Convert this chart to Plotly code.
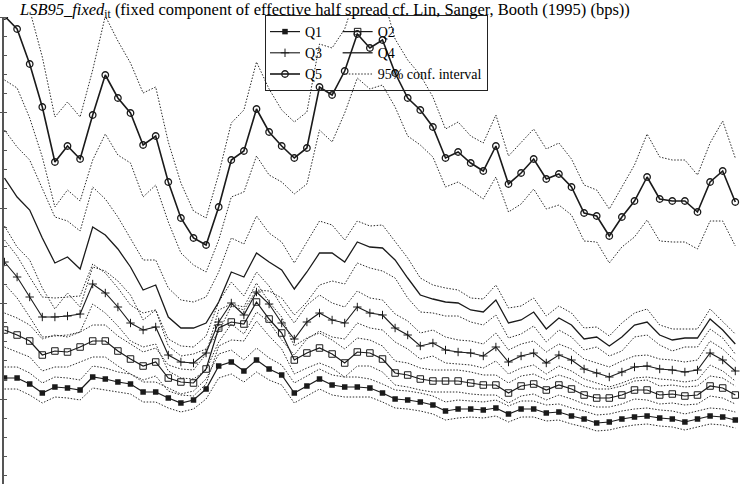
import plotly.graph_objects as go

# period index (59 observations)
periods = list(range(59))

q1 = [12.2,12.2,11.6,10.7,11.3,11.2,11.0,12.3,12.1,11.8,11.6,10.8,10.8,10.2,9.7,10.0,11.1,13.4,13.8,12.9,
      14.0,13.1,12.5,10.7,11.4,12.1,11.5,11.3,11.3,11.2,10.7,10.1,10.0,9.8,9.5,8.9,9.1,9.1,9.0,9.2,
      8.6,9.1,9.1,8.7,8.8,8.4,8.1,7.7,7.8,8.1,8.3,8.4,8.2,8.1,7.8,8.1,8.4,8.3,8.0]
q2 = [17.0,16.5,15.9,14.5,14.9,14.8,15.3,15.9,15.9,14.9,14.1,13.4,13.8,12.2,11.8,11.7,13.1,17.2,17.8,17.6,
      19.8,18.1,16.7,14.0,14.7,15.2,14.6,13.7,14.8,14.7,14.1,12.7,12.5,12.1,11.9,11.9,11.9,11.7,11.5,11.5,
      10.7,11.4,11.6,11.0,11.5,11.1,10.5,10.2,10.2,10.5,11.0,11.0,10.5,10.6,10.4,10.5,11.4,11.2,10.5]
q3 = [23.8,22.3,20.3,18.3,18.3,18.4,18.6,21.6,20.7,19.3,17.7,17.0,17.3,14.5,13.8,13.7,14.7,17.8,19.7,18.5,
      20.8,19.6,17.7,16.1,17.8,18.7,18.0,17.7,19.3,18.7,18.5,17.2,16.5,15.4,15.7,15.0,14.8,14.7,14.4,15.3,
      13.8,14.4,14.7,13.7,14.5,14.0,13.1,12.7,12.3,12.8,13.3,13.4,13.1,13.0,12.8,13.0,14.7,14.0,12.9]
q4 = [32.2,30.3,29.0,26.2,23.7,24.3,23.1,27.3,26.5,25.1,23.3,21.0,21.5,18.3,17.2,17.2,17.7,19.8,22.8,22.3,
      24.7,23.8,23.0,21.1,22.8,24.7,24.7,23.8,25.8,25.3,25.2,24.0,22.2,20.5,20.1,19.8,19.7,19.0,18.8,20.0,
      17.7,18.0,18.8,17.1,18.2,17.5,16.1,16.3,15.4,16.3,17.5,17.8,16.5,16.0,16.2,16.2,18.1,17.0,15.6]
q5 = [48.4,47.1,43.6,39.3,33.8,35.4,34.1,38.5,42.5,40.2,38.7,35.5,36.4,31.8,28.2,26.2,25.5,29.3,34.0,34.9,
      39.1,36.8,35.4,34.2,35.2,41.3,40.5,42.9,46.6,45.2,46.0,42.7,40.2,39.0,37.3,34.2,34.8,33.7,32.9,35.4,
      31.6,32.7,34.1,32.1,32.6,31.3,28.7,28.4,26.4,28.3,29.9,32.3,30.1,29.9,29.9,28.8,31.8,32.9,29.8]

# half-width of the 95% confidence interval
q1_ci = [1.1,1.1,1.1,1.0,1.0,1.0,1.0,1.1,1.1,1.0,1.0,1.0,1.0,1.0,0.9,0.9,1.0,1.2,1.2,1.1,
         1.2,1.1,1.0,1.0,1.0,1.0,1.0,1.0,1.0,0.9,0.9,0.9,0.9,0.9,0.9,0.9,0.9,0.8,0.8,0.8,
         0.8,0.8,0.8,0.8,0.8,0.8,0.8,0.8,0.8,0.8,0.8,0.8,0.8,0.8,0.8,0.8,0.8,0.8,0.8]
q2_ci = [1.7,1.7,1.6,1.6,1.6,1.5,1.5,1.6,1.6,1.5,1.5,1.4,1.4,1.3,1.3,1.3,1.5,1.8,1.8,1.7,
         1.9,1.7,1.6,1.4,1.5,1.5,1.4,1.4,1.4,1.3,1.3,1.2,1.2,1.1,1.1,1.1,1.1,1.1,1.0,1.0,
         1.0,1.0,1.0,1.0,1.0,1.0,0.9,0.9,0.9,0.9,0.9,1.0,0.9,0.9,0.9,0.9,1.0,1.0,0.9]
q3_ci = [2.2,2.1,2.0,2.0,1.9,1.9,1.8,2.0,2.0,1.9,1.8,1.7,1.7,1.6,1.6,1.6,1.7,2.0,2.1,1.9,
         2.0,1.8,1.7,1.6,1.7,1.8,1.7,1.6,1.6,1.5,1.5,1.4,1.4,1.3,1.3,1.3,1.2,1.2,1.2,1.4,
         1.2,1.2,1.2,1.1,1.1,1.1,1.0,1.0,1.0,1.1,1.1,1.1,1.0,1.0,1.0,1.0,1.2,1.1,1.0]
q4_ci = [4.8,5.0,5.0,5.0,4.6,3.6,3.8,4.0,3.6,3.2,2.8,3.0,2.5,2.9,2.8,2.6,2.6,3.0,3.4,3.3,
         3.7,2.9,2.8,2.6,3.0,3.2,2.8,2.2,2.1,2.1,2.3,1.8,2.0,1.7,1.4,1.4,1.3,1.2,1.3,1.5,
         1.5,1.4,1.4,1.3,1.2,1.2,1.1,1.0,1.0,1.4,1.2,1.3,1.0,1.1,0.9,0.9,1.0,0.8,1.0]
q5_ci = [6.4,5.9,5.4,5.0,4.5,4.4,4.2,4.5,5.9,5.7,5.0,5.2,4.9,4.0,3.5,2.7,2.7,3.3,3.7,4.1,
         4.7,4.3,3.6,3.6,3.6,4.3,4.7,4.2,4.4,4.1,4.5,3.4,3.8,3.5,3.0,2.9,3.0,2.7,2.8,3.1,
         2.8,3.1,3.0,3.0,3.1,2.8,2.8,2.6,2.7,3.0,3.6,4.3,4.2,4.1,4.1,3.7,3.9,5.0,4.4]

names = ["Q1", "Q2", "Q3", "Q4", "Q5"]
ci_name = "95% conf. interval"
title_text = ("<i>LSB95_fixed</i><sub>it</sub> (fixed component of effective half spread "
              "cf. Lin, Sanger, Booth (1995) (bps))")

series = [q1, q2, q3, q4, q5]
cis = [q1_ci, q2_ci, q3_ci, q4_ci, q5_ci]

INK = "#1a1a1a"
DOT = "#2a2a2a"
DOTDASH = "1.5px,1.6px"
NB = "\u00a0"

fig = go.Figure()

# confidence bands (dotted), drawn first
ci_lines = []
for s, h in zip(series, cis):
    ci_lines.append([v + d for v, d in zip(s, h)])
    ci_lines.append([v - d for v, d in zip(s, h)])
for yy in ci_lines[1:]:
    fig.add_trace(go.Scatter(x=periods, y=yy, mode="lines", showlegend=False,
                             legendgroup="b", hoverinfo="skip",
                             line=dict(color=DOT, width=1, dash=DOTDASH)))

styles = {
    "Q1": dict(symbol="square", size=5.5, color=INK, line=dict(width=0)),
    "Q2": dict(symbol="square-open", size=6.5, color=INK, line=dict(width=1, color=INK)),
    "Q3": dict(symbol="cross-thin-open", size=6, color=INK, line=dict(width=1, color=INK)),
    "Q5": dict(symbol="circle-open", size=6.5, color=INK, line=dict(width=1.3, color=INK)),
}
widths = {"Q1": 1.2, "Q2": 1.2, "Q3": 1.1, "Q4": 1.3, "Q5": 1.6}
groups = {"Q1": "a", "Q3": "a", "Q5": "a", "Q2": "b", "Q4": "b"}

for nm in ["Q1", "Q3", "Q5", "Q2", "Q4"]:
    s = series[names.index(nm)]
    if nm in styles:
        fig.add_trace(go.Scatter(x=periods, y=s, mode="lines+markers", name=nm + NB * 3,
                                 legendgroup=groups[nm],
                                 line=dict(color=INK, width=widths[nm]), marker=styles[nm]))
    else:
        fig.add_trace(go.Scatter(x=periods, y=s, mode="lines", name=nm + NB * 3,
                                 legendgroup=groups[nm],
                                 line=dict(color=INK, width=widths[nm])))

# first CI line carries the legend entry
fig.add_trace(go.Scatter(x=periods, y=ci_lines[0], mode="lines", name=ci_name,
                         legendgroup="b", hoverinfo="skip",
                         line=dict(color=DOT, width=1, dash=DOTDASH)))

fig.update_layout(
    width=746, height=484,
    margin=dict(l=4, r=0, t=17, b=0, autoexpand=False),
    paper_bgcolor="white", plot_bgcolor="white",
    font=dict(family="Liberation Serif, Times New Roman, serif", color="black", size=14),
    title=dict(text=title_text, x=20 / 746, xanchor="left", xref="container",
               y=1 - 3 / 484, yanchor="top", yref="container",
               font=dict(family="Liberation Serif, serif", size=16.5, color="black")),
    showlegend=True,
    legend=dict(orientation="h", traceorder="grouped", x=(265 - 4) / 742, xanchor="left",
                y=1 + 2 / 467, yanchor="top", bgcolor="rgba(0,0,0,0)",
                bordercolor="#222", borderwidth=1,
                font=dict(family="Liberation Serif, serif", size=14, color="black"),
                tracegroupgap=0, itemwidth=30),
    xaxis=dict(range=[-0.04, 58.85], visible=False, showgrid=False, zeroline=False),
    yaxis=dict(range=[1.6, 48.3], showgrid=False, zeroline=False, showticklabels=False,
               showline=True, linecolor="#555", linewidth=1.5, mirror=False,
               ticks="outside", ticklen=4, tickwidth=1, tickcolor="#555",
               tick0=10.1, dtick=9.55,
               minor=dict(ticks="inside", ticklen=3, tickwidth=1, tickcolor="#555",
                          tick0=10.1, dtick=1.91)),
)

fig.write_html("out.html")
